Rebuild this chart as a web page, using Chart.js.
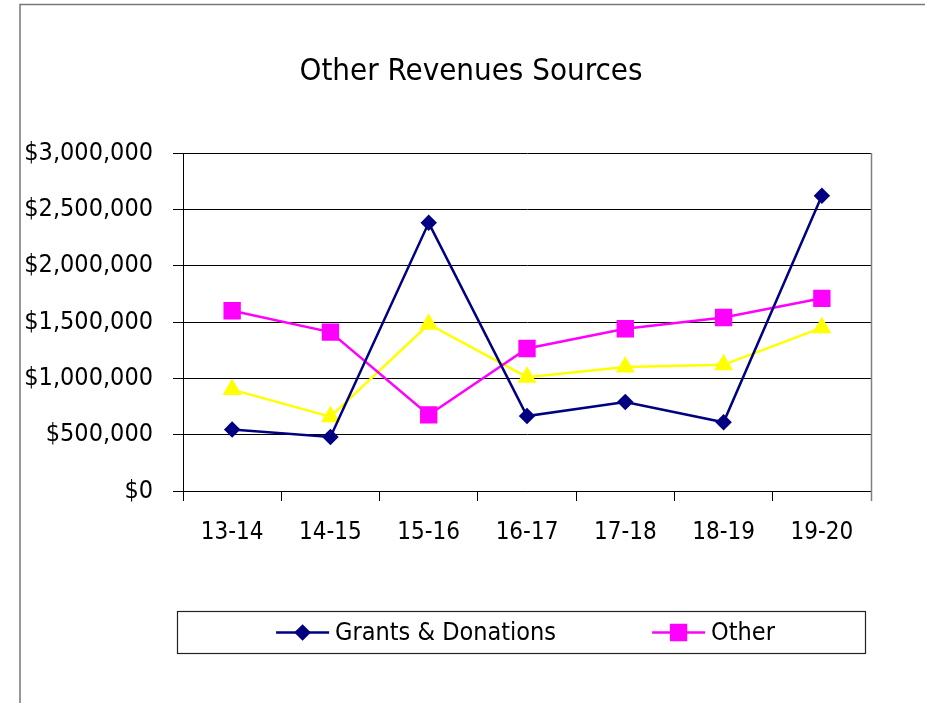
<!DOCTYPE html>
<html>
<head>
<meta charset="utf-8">
<script src="https://cdn.jsdelivr.net/npm/chart.js@4"></script>
<style>
    html, body { margin: 0; padding: 0; background: #fff; }
    #wrap { width: 925px; height: 703px; }
</style>
</head>
<body>
<div id="wrap"><canvas id="revChart" width="925" height="703"></canvas></div>
<script>
const categories = ['13-14', '14-15', '15-16', '16-17', '17-18', '18-19', '19-20'];
const grantsDonations = [545000, 480000, 2380000, 665000, 790000, 610000, 2620000];
const otherRevenue = [1600000, 1410000, 675000, 1265000, 1440000, 1540000, 1710000];
const thirdSeries = [900000, 660000, 1480000, 1010000, 1100000, 1120000, 1450000];
const yTickValues = [0, 500000, 1000000, 1500000, 2000000, 2500000, 3000000];
const chartTitle = 'Other Revenues Sources';

const FONT = "'Liberation Sans Narrow', 'DejaVu Sans Condensed', 'Roboto Condensed', sans-serif";

const money = (v) => '$' + Number(v).toLocaleString('en-US');

// outer frame (only top and left edges are visible in the original) + title
const framePlugin = {
    id: 'frame',
    beforeDraw(chart) {
        const ctx = chart.ctx;
        ctx.save();
        ctx.fillStyle = '#fff';
        ctx.fillRect(0, 0, chart.width, chart.height);
        ctx.strokeStyle = '#777';
        ctx.lineWidth = 1.5;
        ctx.beginPath();
        ctx.moveTo(20, chart.height);
        ctx.lineTo(20, 4.5);
        ctx.lineTo(chart.width, 4.5);
        ctx.stroke();

        ctx.fillStyle = '#000';
        ctx.font = '31px ' + FONT;
        ctx.textAlign = 'center';
        ctx.textBaseline = 'middle';
        ctx.fillText(chartTitle, 471, 72);
        ctx.restore();
    },
    beforeDatasetsDraw(chart) {
        const { ctx, chartArea } = chart;
        ctx.save();
        ctx.strokeStyle = '#808080';
        ctx.lineWidth = 1.5;
        ctx.beginPath();
        ctx.moveTo(chartArea.right + 0.5, chartArea.top);
        ctx.lineTo(chartArea.right + 0.5, chartArea.bottom + 10);
        ctx.stroke();
        ctx.restore();
    },
};

// boxed legend with line + marker samples, two entries only
const boxLegendPlugin = {
    id: 'boxLegend',
    afterDraw(chart) {
        const ctx = chart.ctx;
        const box = { left: 177.5, top: 611.5, width: 688, height: 42 };
        ctx.save();
        ctx.strokeStyle = '#222';
        ctx.lineWidth = 1.2;
        ctx.strokeRect(box.left, box.top, box.width, box.height);

        ctx.font = '25px ' + FONT;
        ctx.textBaseline = 'middle';
        const items = [0, 1].map((i) => {
            const ds = chart.data.datasets[i];
            return { ds, textW: ctx.measureText(ds.label).width };
        });
        const lineW = 53, gap = 6, itemGap = 96;
        const total = items.reduce((s, it) => s + lineW + gap + it.textW, 0) + itemGap;
        let x = box.left + box.width / 2 - total / 2 + 4;
        const cy = box.top + box.height / 2;
        items.forEach((it) => {
            const ds = it.ds;
            ctx.strokeStyle = ds.borderColor;
            ctx.lineWidth = ds.borderWidth;
            ctx.beginPath();
            ctx.moveTo(x, cy);
            ctx.lineTo(x + lineW, cy);
            ctx.stroke();
            Chart.helpers.drawPoint(ctx, {
                pointStyle: ds.pointStyle,
                radius: ds.pointRadius,
                borderWidth: 1,
            }, x + lineW / 2, cy);
            ctx.fillStyle = ds.pointBackgroundColor;
            ctx.fill();
            ctx.fillStyle = '#000';
            ctx.fillText(ds.label, x + lineW + gap, cy + 1);
            x += lineW + gap + it.textW + itemGap;
        });
        ctx.restore();
    },
};

new Chart(document.getElementById('revChart').getContext('2d'), {
    type: 'line',
    data: {
        labels: categories,
        datasets: [{
            label: 'Grants & Donations',
            data: grantsDonations,
            borderColor: '#000080',
            backgroundColor: '#000080',
            pointBackgroundColor: '#000080',
            pointBorderColor: '#000080',
            pointStyle: 'rectRot',
            pointRadius: 6.5,
            borderWidth: 2.5,
            tension: 0,
            order: 0,
        }, {
            label: 'Other',
            data: otherRevenue,
            borderColor: '#FF00FF',
            backgroundColor: '#FF00FF',
            pointBackgroundColor: '#FF00FF',
            pointBorderColor: '#FF00FF',
            pointStyle: 'rect',
            pointRadius: 10.5,
            borderWidth: 2.5,
            tension: 0,
            order: 1,
        }, {
            label: '',
            data: thirdSeries,
            borderColor: '#FFFF00',
            backgroundColor: '#FFFF00',
            pointBackgroundColor: '#FFFF00',
            pointBorderColor: '#FFFF00',
            pointStyle: 'triangle',
            pointRadius: 8.5,
            borderWidth: 2.5,
            tension: 0,
            order: 2,
        }],
    },
    options: {
        responsive: false,
        animation: false,
        layout: {
            padding: { left: 20, right: 54, top: 153, bottom: 0 },
        },
        plugins: {
            legend: { display: false },
            tooltip: { enabled: false },
            title: { display: false },
        },
        scales: {
            x: {
                type: 'category',
                offset: true,
                grid: {
                    offset: true,
                    drawOnChartArea: false,
                    drawTicks: true,
                    tickLength: 10,
                    color: '#000',
                },
                border: { display: true, color: '#000', width: 1 },
                ticks: {
                    color: '#000',
                    font: { family: FONT, size: 24 },
                    padding: 17,
                    maxRotation: 0,
                },
                afterFit(scale) { scale.height = 212; },
            },
            y: {
                min: 0,
                max: 3000000,
                afterBuildTicks(scale) {
                    scale.ticks = yTickValues.map((v) => ({ value: v }));
                },
                grid: {
                    color: '#000',
                    lineWidth: 1,
                    drawTicks: true,
                    tickLength: 10,
                },
                border: { display: true, color: '#000', width: 1 },
                ticks: {
                    color: '#000',
                    font: { family: FONT, size: 25 },
                    padding: 20,
                    callback: (v) => money(v),
                },
                afterFit(scale) { scale.width = 163; },
            },
        },
    },
    plugins: [framePlugin, boxLegendPlugin],
});
</script>
</body>
</html>
